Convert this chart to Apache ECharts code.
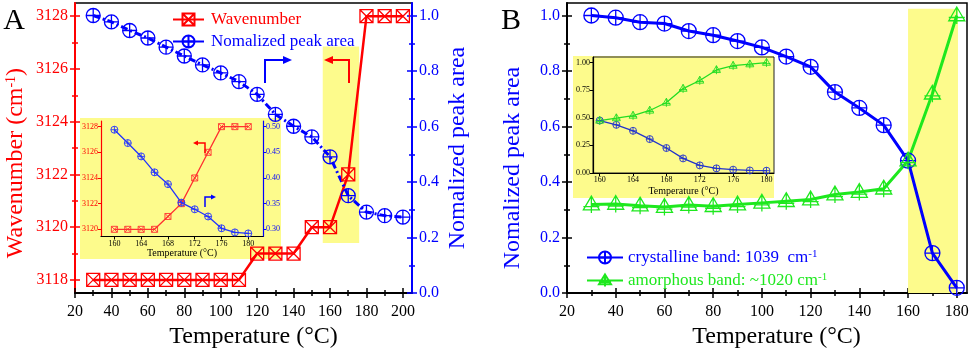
<!DOCTYPE html>
<html lang="en">
<head>
<meta charset="UTF-8">
<title>Wavenumber / peak area</title>
<script src="https://cdn.jsdelivr.net/npm/echarts@6/dist/echarts.min.js"></script>
<style>
  html, body { margin: 0; padding: 0; background: #fff; }
  #chart { width: 972px; height: 354px; }
</style>
</head>
<body>
<div id="chart"></div>
<script>
// ---- panel A data ----
var tempA = [30, 40, 50, 60, 70, 80, 90, 100, 110, 120, 130, 140, 150, 160, 170, 180, 190, 200];
var wavenumberA = [3118, 3118, 3118, 3118, 3118, 3118, 3118, 3118, 3118, 3119, 3119, 3119, 3120, 3120, 3122, 3128, 3128, 3128];
var peakAreaA = [1.0, 0.977, 0.946, 0.919, 0.886, 0.854, 0.822, 0.793, 0.762, 0.716, 0.644, 0.601, 0.563, 0.491, 0.351, 0.292, 0.279, 0.274];

// inset A
var tempInsetA = [160, 162, 164, 166, 168, 170, 172, 174, 176, 178, 180];
var wavenumberInsetA = [3120, 3120, 3120, 3120, 3121, 3122, 3124, 3126, 3128, 3128, 3128];
var peakAreaInsetA = [0.494, 0.468, 0.442, 0.411, 0.388, 0.352, 0.339, 0.325, 0.302, 0.294, 0.292];

// ---- panel B data ----
var tempB = [30, 40, 50, 60, 70, 80, 90, 100, 110, 120, 130, 140, 150, 160, 170, 180];
var crystallineB = [1.0, 0.992, 0.976, 0.971, 0.944, 0.929, 0.908, 0.885, 0.852, 0.815, 0.724, 0.667, 0.605, 0.477, 0.144, 0.019];
var amorphousB = [0.319, 0.321, 0.315, 0.310, 0.317, 0.313, 0.319, 0.325, 0.331, 0.337, 0.355, 0.364, 0.376, 0.477, 0.718, 1.0];

// inset B
var tempInsetB = [160, 162, 164, 166, 168, 170, 172, 174, 176, 178, 180];
var crystallineInsetB = [0.475, 0.436, 0.382, 0.307, 0.226, 0.132, 0.069, 0.042, 0.030, 0.023, 0.021];
var amorphousInsetB = [0.475, 0.497, 0.520, 0.566, 0.638, 0.764, 0.837, 0.933, 0.972, 0.985, 0.999];

// highlighted temperature windows (data units)
var highlightA = { x: [156, 176], y: [3119.4, 3126.85] };
var highlightB = { x: [160, 180.5], y: [0, 1.024] };

// ---- ticks ----
var xTicksA = [20, 40, 60, 80, 100, 120, 140, 160, 180, 200];
var xMinorA = [30, 50, 70, 90, 110, 130, 150, 170, 190];
var wnTicksA = [3118, 3120, 3122, 3124, 3126, 3128];
var wnMinorA = [3119, 3121, 3123, 3125, 3127];
var areaTicks = [0, 0.2, 0.4, 0.6, 0.8, 1.0];
var areaMinor = [0.1, 0.3, 0.5, 0.7, 0.9];
var xTicksB = [20, 40, 60, 80, 100, 120, 140, 160, 180];
var xMinorB = [30, 50, 70, 90, 110, 130, 150, 170];
var insetXTicks = [160, 164, 168, 172, 176, 180];
var insetWnTicks = [3120, 3122, 3124, 3126, 3128];
var insetAreaTicksA = [0.30, 0.35, 0.40, 0.45, 0.50];
var insetAreaTicksB = [0, 0.25, 0.50, 0.75, 1.00];

var FONT = 'Liberation Serif';
var RED = '#ff0000', BLUE = '#0000ff', GREEN = '#1ee81e', YELLOW = '#fdfb8c';
var SYM_SQX = 'path://M0,0L20,0L20,20L0,20ZM0,0L20,20M20,0L0,20';
var SYM_CIRP = 'path://M0,10A10,10,0,1,1,20,10A10,10,0,1,1,0,10ZM10,0L10,20M0,10L20,10';
var SYM_TRIP = 'path://M10,0L20,17L0,17ZM10,0L10,21M0,13L20,13';

function pairs(xs, ys) {
  return xs.map(function (x, i) { return [x, ys[i]]; });
}

// extra axis that only draws ticks crossing the axis line
function tickAxis(grid, pos, min, max, values, len, color) {
  return {
    type: 'value', gridIndex: grid, position: pos, min: min, max: max, offset: -len / 2,
    axisLine: { show: false, onZero: false },
    axisLabel: { show: false },
    splitLine: { show: false },
    axisTick: { show: true, customValues: values, length: len, lineStyle: { color: color, width: 1.5 } }
  };
}

function plain(v) { return String(v); }
function fx(d) { return function (v) { return v.toFixed(d); }; }

function mainAxis(grid, pos, min, max, labels, color, labelColor, fontSize, fmt) {
  return {
    type: 'value', gridIndex: grid, position: pos, min: min, max: max,
    axisLine: { show: true, onZero: false, lineStyle: { color: color, width: 2 } },
    axisTick: { show: false },
    splitLine: { show: false },
    axisLabel: {
      customValues: labels, color: labelColor, fontFamily: FONT, fontSize: fontSize,
      margin: 7, formatter: fmt || plain
    }
  };
}

function insetAxis(grid, pos, min, max, labels, color, labelColor, fmt) {
  return {
    type: 'value', gridIndex: grid, position: pos, min: min, max: max,
    axisLine: { show: true, onZero: false, lineStyle: { color: color, width: 1.2 } },
    axisTick: { show: true, customValues: labels, length: 3, lineStyle: { color: color } },
    splitLine: { show: false },
    axisLabel: { customValues: labels, color: labelColor, fontFamily: FONT, fontSize: 8, margin: 3, formatter: fmt || plain }
  };
}

function lineSeries(name, xi, yi, xs, ys, color, sym, size, width, lineType, bw) {
  return {
    name: name, type: 'line', xAxisIndex: xi, yAxisIndex: yi,
    data: pairs(xs, ys), symbol: sym, symbolSize: size,
    itemStyle: { color: 'rgba(0,0,0,0)', borderColor: color, borderWidth: bw || 1.3 },
    lineStyle: { color: color, width: width, type: lineType || 'solid' },
    z: 3
  };
}

var chart = echarts.init(document.getElementById('chart'));

var xAxes = [
  // 0: A main
  Object.assign(mainAxis(0, 'bottom', 20, 205, xTicksA, '#000', '#000', 16), {
    name: 'Temperature (°C)', nameLocation: 'middle', nameGap: 30,
    nameTextStyle: { fontFamily: FONT, fontSize: 24, color: '#000', padding: [0, 0, 0, 20] }
  }),
  tickAxis(0, 'bottom', 20, 205, xTicksA, 10, '#000'),
  tickAxis(0, 'bottom', 20, 205, xMinorA, 6, '#000'),
  // 3: inset A
  Object.assign(insetAxis(1, 'bottom', 158, 182.2, insetXTicks, '#000', '#000'), {
    name: 'Temperature (°C)', nameLocation: 'middle', nameGap: 11,
    nameTextStyle: { fontFamily: FONT, fontSize: 10, color: '#000' }
  }),
  // 4: B main
  Object.assign(mainAxis(2, 'bottom', 20, 184.2, xTicksB, '#000', '#000', 16), {
    name: 'Temperature (°C)', nameLocation: 'middle', nameGap: 29,
    nameTextStyle: { fontFamily: FONT, fontSize: 24, color: '#000', padding: [0, 0, 0, 19] }
  }),
  tickAxis(2, 'bottom', 20, 184.2, xTicksB, 10, '#000'),
  tickAxis(2, 'bottom', 20, 184.2, xMinorB, 6, '#000'),
  // 7: inset B
  Object.assign(insetAxis(3, 'bottom', 159.2, 180.9, insetXTicks, '#000', '#000'), {
    name: 'Temperature (°C)', nameLocation: 'middle', nameGap: 13,
    nameTextStyle: { fontFamily: FONT, fontSize: 10, color: '#000' }
  })
];
xAxes[0].axisLabel.margin = 11;
xAxes[4].axisLabel.margin = 11;

var yAxes = [
  // 0: A left
  Object.assign(mainAxis(0, 'left', 3117.5, 3128.5, wnTicksA, RED, RED, 16), {
    name: 'Wavenumber (cm{sup|-1})', nameLocation: 'middle', nameRotate: 90, nameGap: 47,
    nameTextStyle: {
      fontFamily: FONT, fontSize: 24, color: RED, padding: [0, 30, 0, 0],
      rich: { sup: { fontFamily: FONT, fontSize: 14, color: RED, verticalAlign: 'top' } }
    }
  }),
  tickAxis(0, 'left', 3117.5, 3128.5, wnTicksA, 10, RED),
  tickAxis(0, 'left', 3117.5, 3128.5, wnMinorA, 6, RED),
  // 3: A right
  Object.assign(mainAxis(0, 'right', 0, 1.045, areaTicks, BLUE, BLUE, 16, fx(1)), {
    name: 'Nomalized peak area', nameLocation: 'middle', nameRotate: 90, nameGap: 34,
    nameTextStyle: { fontFamily: FONT, fontSize: 24, color: BLUE }
  }),
  tickAxis(0, 'right', 0, 1.045, areaTicks, 10, BLUE),
  tickAxis(0, 'right', 0, 1.045, areaMinor, 6, BLUE),
  // 6, 7: inset A
  insetAxis(1, 'left', 3119.44, 3128.44, insetWnTicks, RED, RED),
  insetAxis(1, 'right', 0.286, 0.511, insetAreaTicksA, BLUE, BLUE, fx(2)),
  // 8: B main
  Object.assign(mainAxis(2, 'left', 0, 1.045, areaTicks, '#000', BLUE, 16, fx(1)), {
    name: 'Nomalized peak area', nameLocation: 'middle', nameRotate: 90, nameGap: 42,
    nameTextStyle: { fontFamily: FONT, fontSize: 24, color: BLUE, padding: [0, 40, 0, 0] }
  }),
  tickAxis(2, 'left', 0, 1.045, areaTicks, 10, '#000'),
  tickAxis(2, 'left', 0, 1.045, areaMinor, 6, '#000'),
  // 11: inset B
  insetAxis(3, 'left', 0, 1.05, insetAreaTicksB, '#000', '#000', fx(2))
];

var series = [
  { type: 'line', xAxisIndex: 0, yAxisIndex: 0, data: [], silent: true,
    markArea: { silent: true, itemStyle: { color: YELLOW },
      data: [[{ coord: [highlightA.x[0], highlightA.y[0]] }, { coord: [highlightA.x[1], highlightA.y[1]] }]] } },
  lineSeries('Wavenumber', 0, 0, tempA, wavenumberA, RED, SYM_SQX, 13, 2.5),
  lineSeries('Nomalized peak area', 0, 3, tempA, peakAreaA, BLUE, SYM_CIRP, 14, 3, [7, 3, 2, 3]),
  lineSeries('insetWn', 3, 6, tempInsetA, wavenumberInsetA, '#ff3030', SYM_SQX, 6, 1.3, 'solid', 0.9),
  lineSeries('insetAreaA', 3, 7, tempInsetA, peakAreaInsetA, '#2233ff', SYM_CIRP, 7, 1.3, 'solid', 0.9),
  { type: 'line', xAxisIndex: 4, yAxisIndex: 8, data: [], silent: true,
    markArea: { silent: true, itemStyle: { color: YELLOW },
      data: [[{ coord: [highlightB.x[0], highlightB.y[0]] }, { coord: [highlightB.x[1], highlightB.y[1]] }]] } },
  lineSeries('crystalline band: 1039  cm-1', 4, 8, tempB, crystallineB, BLUE, SYM_CIRP, 15, 3),
  lineSeries('amorphous band: ~1020 cm-1', 4, 8, tempB, amorphousB, GREEN, SYM_TRIP, [16, 17], 3),
  lineSeries('insetCrysB', 7, 11, tempInsetB, crystallineInsetB, '#2233cc', SYM_CIRP, 7, 1.3, 'solid', 0.9),
  lineSeries('insetAmorB', 7, 11, tempInsetB, amorphousInsetB, '#22dd22', SYM_TRIP, [8, 8.5], 1.3, 'solid', 0.9)
];

function bentArrow(pts, head, color, w) {
  return [
    { type: 'polyline', shape: { points: pts }, style: { stroke: color, lineWidth: w, fill: null }, z: 5, silent: true },
    { type: 'polygon', shape: { points: head }, style: { fill: color }, z: 5, silent: true }
  ];
}

var graphics = [
  { type: 'rect', shape: { x: 80, y: 118, width: 201, height: 141 }, style: { fill: YELLOW }, z: -1, silent: true },
  { type: 'rect', shape: { x: 573, y: 56, width: 201, height: 142 }, style: { fill: YELLOW }, z: -1, silent: true },
  { type: 'text', x: 14, y: 21, style: { text: 'A', fontFamily: FONT, fontSize: 30, fill: '#000', align: 'center', verticalAlign: 'middle' } },
  { type: 'text', x: 511, y: 21, style: { text: 'B', fontFamily: FONT, fontSize: 30, fill: '#000', align: 'center', verticalAlign: 'middle' } }
].concat(
  bentArrow([[265, 83], [265, 60], [283, 60]], [[283, 56], [292, 60], [283, 64]], BLUE, 2),
  bentArrow([[349, 83], [349, 60], [333, 60]], [[333, 56], [324, 60], [333, 64]], RED, 2),
  bentArrow([[205, 153], [205, 143], [198, 143]], [[198, 140.5], [193, 143], [198, 145.5]], RED, 1.5),
  bentArrow([[205, 207], [205, 197], [211, 197]], [[211, 194.5], [216, 197], [211, 199.5]], BLUE, 1.5)
);

var legendRich = {
  supBlue: { fontFamily: FONT, fontSize: 11, color: BLUE, verticalAlign: 'top' },
  supGreen: { fontFamily: FONT, fontSize: 11, color: GREEN, verticalAlign: 'top' }
};

var option = {
  animation: false,
  backgroundColor: '#fff',
  grid: [
    { left: 75, top: 3, width: 337, height: 295, show: true, borderColor: '#000', borderWidth: 1.5, backgroundColor: 'transparent' },
    { left: 101, top: 121, width: 162, height: 115.5, show: false },
    { left: 567, top: 3, width: 400, height: 293, show: true, borderColor: '#000', borderWidth: 1.5, backgroundColor: 'transparent' },
    { left: 593, top: 57, width: 181, height: 116, show: true, borderColor: '#222', borderWidth: 1, backgroundColor: 'transparent' }
  ],
  xAxis: xAxes,
  yAxis: yAxes,
  legend: [
    { left: 167, top: 6, orient: 'vertical', itemWidth: 31, itemHeight: 15, itemGap: 5, selectedMode: false,
      lineStyle: { type: 'solid' },
      textStyle: { fontFamily: FONT, fontSize: 17, padding: [0, 0, 0, 2] },
      data: [
        { name: 'Wavenumber', textStyle: { color: RED } },
        { name: 'Nomalized peak area', textStyle: { color: BLUE } }
      ] },
    { left: 581, top: 244, orient: 'vertical', itemWidth: 36, itemHeight: 15, itemGap: 6, selectedMode: false,
      textStyle: { fontFamily: FONT, fontSize: 17, padding: [0, 0, 0, 0], rich: legendRich },
      formatter: function (name) {
        var s = name.indexOf('crystalline') === 0 ? 'supBlue' : 'supGreen';
        return name.replace('cm-1', 'cm{' + s + '|-1}');
      },
      data: [
        { name: 'crystalline band: 1039  cm-1', textStyle: { color: BLUE } },
        { name: 'amorphous band: ~1020 cm-1', textStyle: { color: GREEN } }
      ] }
  ],
  graphic: graphics,
  series: series
};

chart.setOption(option);
</script>
</body>
</html>
